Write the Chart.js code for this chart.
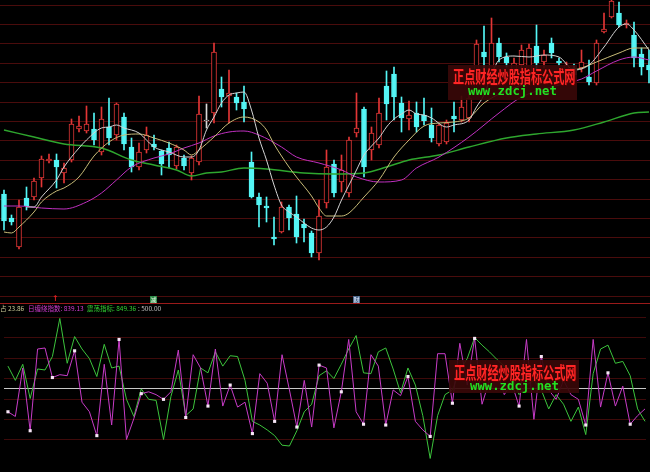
<!DOCTYPE html>
<html lang="zh-CN">
<head>
<meta charset="utf-8">
<title>K线图</title>
<script src="https://cdn.jsdelivr.net/npm/chart.js@4.4.1/dist/chart.umd.min.js"></script>
<style>
  html, body { margin:0; padding:0; background:#000; }
  #wrap { position:relative; width:650px; height:472px; overflow:hidden; background:#000; }
  #topChart { position:absolute; left:0; top:0; }
  #botChart { position:absolute; left:0; top:304px; }
  .divider { position:absolute; left:0; top:303px; width:650px; height:1px; background:#9a1a1a; }
  .lg { position:absolute; top:304px; font-family:"Noto Sans CJK SC", sans-serif; font-size:6.5px; line-height:9px; white-space:nowrap; }
  .wm-box { position:absolute; background:rgba(56,8,8,0.92); }
  .wm-cn { position:absolute; font-family:"Noto Sans CJK SC", sans-serif; font-weight:bold; font-size:17px; line-height:17px; color:#ff2626; transform:scaleX(0.655); transform-origin:0 0; white-space:nowrap; text-shadow:1px 1px 0 #5a0000; }
  .wm-en { position:absolute; font-family:"DejaVu Sans Mono", monospace; font-weight:bold; font-size:12.3px; line-height:12px; color:#22e022; white-space:nowrap; }
  .tag { position:absolute; width:7px; height:7px; font-family:"Noto Sans CJK SC", sans-serif; font-size:6px; line-height:7px; text-align:center; }
  .arrow { position:absolute; font-family:"DejaVu Sans", sans-serif; font-size:8px; line-height:8px; color:#e02020; font-weight:bold; }
</style>
</head>
<body>
<div id="wrap">
  <canvas id="topChart" width="650" height="304"></canvas>
  <canvas id="botChart" width="650" height="168"></canvas>
  <div class="divider"></div>

  <div class="arrow" style="left:52px;top:295px;">↑</div>
  <div class="tag" style="left:150px;top:296px;background:#2f8a48;color:#e8ffe8;">减</div>
  <div class="tag" style="left:353px;top:296px;background:#4e6a8c;color:#e0e8ff;">财</div>

  <div class="lg" style="left:0px;color:#c8c896;">占 23.86</div>
  <div class="lg" style="left:28px;color:#d23cd2;">日缠绕指数: 839.13</div>
  <div class="lg" style="left:87px;color:#32d232;">震荡指标: 849.36</div>
  <div class="lg" style="left:138px;color:#c0c0c0;">: 500.00</div>

  <div class="wm-box" style="left:448px;top:65px;width:129px;height:35px;"></div>
  <div class="wm-cn" style="left:453px;top:67px;">正点财经炒股指标公式网</div>
  <div class="wm-en" style="left:468px;top:85px;">www.zdcj.net</div>

  <div class="wm-box" style="left:449px;top:360px;width:130px;height:33px;"></div>
  <div class="wm-cn" style="left:454px;top:363px;">正点财经炒股指标公式网</div>
  <div class="wm-en" style="left:470px;top:380px;">www.zdcj.net</div>
</div>
<script>
// ---------- candle data (price) ----------
const open  = [10.6,8.2,5.3,10.2,10.3,12.2,13.9,14.0,12.7,14.0, 17.1,16.9,17.1,14.8,17.3,16.5,18.3,15.3,13.3,15.0,
               15.6,14.9,15.2,13.4,14.2,12.7,13.8,17.9,18.7,21.1, 20.4,20.3,19.8,13.8,10.3,9.4,6.3,6.8,9.3,8.6,
               7.6,6.7,4.7,9.7,13.6,11.8,10.7,16.7,19.1,15.0, 15.5,21.4,22.6,19.7,18.1,18.7,18.5,17.5,15.6,15.8,
               18.4,18.0,18.2,22.3,24.8,22.3,25.7,24.3,22.5,23.5, 22.5,25.4,23.8,25.7,23.9,22.8,23.2,23.2,22.3,21.7,
               26.8,28.3,28.7,27.5,26.5,24.6,23.5];
const high  = [11.0,8.5,10.0,11.3,12.2,14.4,14.6,14.6,13.7,18.1, 18.4,19.4,18.7,19.3,20.2,19.7,18.7,16.2,15.7,17.3,
               16.5,15.0,15.8,15.5,14.5,14.4,20.4,19.6,25.7,22.3, 23.0,20.7,21.4,14.8,10.7,10.3,8.3,9.8,9.5,10.4,
               8.1,6.9,10.0,15.0,14.0,14.5,16.3,20.7,19.3,17.3, 20.2,22.9,23.3,20.3,19.9,19.8,20.2,19.2,17.6,18.0,
               19.8,20.4,20.8,26.0,27.4,28.2,26.2,24.7,24.2,25.5, 25.6,27.5,25.0,26.2,24.2,23.8,23.6,25.0,24.0,26.0,
               28.7,30.5,29.8,28.0,27.8,25.2,25.0];
const low   = [7.0,7.5,5.1,9.0,10.0,11.3,13.7,11.2,11.7,13.8, 16.8,16.7,15.5,14.5,15.5,16.0,15.0,12.8,13.0,14.7,
               15.0,12.5,13.2,13.1,13.0,12.0,13.5,17.2,17.7,19.3, 17.7,19.0,17.8,10.2,7.3,7.8,5.5,6.7,7.0,5.7,
               5.8,4.3,4.0,9.2,10.3,10.8,10.3,16.3,12.3,14.0, 15.2,18.0,18.0,16.8,17.0,16.8,17.5,15.8,15.4,15.6,
               16.8,17.8,17.8,22.0,22.7,22.0,23.8,23.3,22.2,23.0, 22.2,23.0,23.2,24.2,23.4,22.5,22.2,22.8,21.5,21.5,
               26.7,28.2,27.3,27.2,23.3,22.5,21.7];
const close = [7.9,7.8,9.3,9.4,11.9,14.1,14.1,13.3,13.2,17.6, 17.4,17.6,16.0,18.1,16.2,19.6,15.6,13.3,14.8,16.5,
               15.3,13.6,14.5,15.3,13.4,14.2,18.6,18.0,24.8,20.3, 20.7,19.7,19.1,10.3,9.5,9.2,6.1,9.3,8.2,6.3,
               7.2,4.7,8.4,13.3,10.7,13.0,16.0,17.2,13.3,16.7, 18.7,19.6,20.3,18.2,18.5,17.3,17.9,16.2,17.5,17.7,
               18.1,19.3,20.2,25.6,24.3,25.7,24.3,23.7,23.7,25.0, 25.2,23.7,24.5,24.7,23.7,23.5,22.5,23.8,21.8,25.7,
               27.1,29.9,27.5,27.7,24.2,23.3,23.0];

// ---------- moving averages: [candle index, value] ----------
const ma5 = [[3,9.3],[4,9.3],[5,10.3],[7,12.0],[8,13.3],[10,15.2],[11,16.0],[13,17.2],[14,17.3],[15,17.5],[16,17.2],
  [18,16.7],[19,16.0],[20,15.3],[22,14.8],[24,14.3],[25,14.3],[26,15.0],[27,17.0],[28,18.3],[29,19.7],[30,20.5],
  [31,20.7],[32,20.8],[33,19.0],[34,16.2],[35,14.0],[36,11.5],[37,9.5],[38,8.8],[39,8.3],[40,7.7],[41,7.2],[42,7.0],
  [43,7.3],[44,8.3],[45,10.0],[46,11.5],[47,13.0],[48,14.5],[49,15.4],[50,16.2],[51,17.3],[52,18.1],[53,18.6],
  [54,19.0],[55,18.6],[56,18.5],[57,18.2],[59,17.3],[60,17.5],[62,18.0],[63,19.3],[64,20.5],[65,22.5],[66,24.0],
  [68,24.4],[70,24.3],[72,24.5],[74,24.3],[76,23.0],[78,23.5],[80,25.3],[82,27.3],[83,27.6],[84,27.0],[86,25.0]];
const ma10 = [[0,6.8],[1,6.7],[2,7.3],[4,8.8],[5,9.8],[7,10.9],[8,11.2],[10,12.3],[12,14.4],[14,15.8],[16,16.5],
  [18,16.6],[20,16.2],[22,15.7],[24,15.0],[25,14.5],[26,15.0],[28,16.3],[30,17.7],[32,18.3],[34,17.8],[35,17.0],
  [36,15.6],[38,13.3],[39,12.3],[41,10.4],[42,9.2],[43,8.4],[45,8.4],[46,8.7],[48,10.3],[50,12.0],[52,14.3],
  [54,16.0],[56,17.4],[58,17.7],[60,17.8],[62,18.2],[64,19.7],[69,21.5],[73,22.5],[77,23.2],[79,23.8],[82,24.7],
  [84,25.2],[86,25.2]];
const ma20 = [[0,9.4],[2,9.4],[5,9.2],[8,9.1],[11,9.8],[13,10.7],[15,12.0],[17,13.3],[20,14.2],[22,14.6],[24,15.2],
  [26,15.7],[28,16.4],[30,16.8],[32,16.9],[34,16.5],[37,15.3],[39,14.3],[42,13.7],[45,13.0],[47,12.3],[50,11.8],
  [53,12.0],[55,13.2],[58,14.3],[62,16.3],[66,18.7],[69,20.3],[73,21.3],[77,22.1],[79,22.9],[82,24.0],[84,24.3],[86,24.0]];
const ma60 = [[0,17.0],[4,16.3],[8,15.6],[13,15.2],[17,14.0],[20,13.5],[23,13.0],[25,12.4],[27,12.7],[29,12.8],
  [32,13.2],[35,13.1],[40,12.7],[44,12.6],[48,12.7],[51,13.3],[54,14.0],[58,14.5],[62,15.3],[67,16.2],[71,16.6],
  [76,17.0],[80,17.8],[84,18.7],[86,18.8]];

// ---------- lower panel indicators ----------
const chainIdx = [388,365,603,295,696,701,556,570,565,687, 435,388,271,621,323,743,252,355,477,486,
  472,449,486,691,360,668,603,416,696,416, 519,411,435,281,575,528,341,668,495,313,
  542,313,617,603,309,486,743,388,327,668, 612,323,495,467,561,341,299,267,673,673,
  430,724,519,748,425,542,589,472,528,416, 743,351,659,495,449,542,472,449,323,743,
  411,579,416,514,327,369,402];
const oscIdx = [612,542,621,453,598,593,659,846,626,757, 696,649,561,719,603,612,449,365,500,449,
  444,252,463,593,369,402,603,579,682,612, 663,659,542,341,323,299,271,224,220,295,
  388,425,565,589,551,621,696,762,579,575, 682,701,598,481,603,519,369,159,369,472,
  495,589,649,752,715,682,645,612,565,472, 519,542,495,402,472,425,341,411,276,575,
  696,715,626,635,565,402,341];
const markIdx = [0,3,6,9,12,15,18,21,24,27,30,33,36,39,42,45,48,51,54,57,60,63,66,69,72,75,78,81,84];
const refLevel = 500;

// ---------- axis tick values (grid lines) ----------
const topGridTicks = [29.5,27.56,25.62,23.68,21.74,19.8,17.86,15.92,13.98,12.04,10.1,8.16,6.22,4.28,2.34,0.4];
const botGridTicks = [250,350,450,500,550,650,750,850];

// ---------- build ----------
const N = open.length;
const idx = Array.from({length: N}, (_, i) => i);
const RED = '#e23636', CYAN = '#54f6f6', FLAT = '#d8d8d8';
const colorOf = i => Math.abs(close[i] - open[i]) < 0.15 ? FLAT : (close[i] > open[i] ? RED : CYAN);
const fillOf  = i => (close[i] < open[i] && Math.abs(close[i] - open[i]) >= 0.15) ? CYAN : '#000000';
const X_MIN = -0.533, X_MAX = 86.133;

const lineDs = (label, pts, color, w) => ({
  type: 'line', label, data: pts.map(([x, y]) => ({x, y})),
  borderColor: color, borderWidth: w, pointRadius: 0, fill: false,
  cubicInterpolationMode: 'monotone', order: 0
});

const common = {
  responsive: false, animation: false, devicePixelRatio: 1,
  layout: { padding: 0 },
  events: [],
  plugins: { legend: { display: false }, tooltip: { enabled: false } }
};

new Chart(document.getElementById('topChart'), {
  type: 'bar',
  data: {
    datasets: [
      lineDs('MA5',  ma5,  '#d4d4d4', 1),
      lineDs('MA10', ma10, '#c8bc78', 1),
      lineDs('MA20', ma20, '#c030c0', 1),
      lineDs('MA60', ma60, '#2ea62e', 1.4),
      {
        label: 'body', data: idx.map(i => ({x: i, y: [open[i], close[i]]})),
        backgroundColor: idx.map(fillOf), borderColor: idx.map(colorOf),
        borderWidth: 1, borderSkipped: false, barThickness: 5, maxBarThickness: 5,
        grouped: false, order: 1
      },
      {
        label: 'wick', data: idx.map(i => ({x: i, y: [low[i], high[i]]})),
        backgroundColor: idx.map(colorOf), borderWidth: 0,
        barThickness: 1, maxBarThickness: 1, grouped: false, order: 2
      }
    ]
  },
  options: Object.assign({}, common, {
    scales: {
      x: { type: 'linear', min: X_MIN, max: X_MAX, display: false, offset: false },
      y: {
        min: -0.4, max: 30,
        border: { display: false },
        grid: { color: '#4a0c0c', drawTicks: false, lineWidth: 1 },
        ticks: { display: false },
        afterBuildTicks: s => { s.ticks = topGridTicks.map(v => ({value: v})); },
        afterFit: s => { s.width = 0; }
      }
    }
  })
});

new Chart(document.getElementById('botChart'), {
  type: 'line',
  data: {
    datasets: [
      {
        label: 'marks', data: markIdx.map(i => ({x: i, y: chainIdx[i]})),
        showLine: false, pointStyle: 'rect', pointRadius: 2.2, pointBorderWidth: 0,
        pointBackgroundColor: '#f6e6f6', order: 0
      },
      {
        label: '日缠绕指数', data: idx.map(i => ({x: i, y: chainIdx[i]})),
        borderColor: '#c83cc8', borderWidth: 1, pointRadius: 0, tension: 0, order: 1
      },
      {
        label: '震荡指标', data: idx.map(i => ({x: i, y: oscIdx[i]})),
        borderColor: '#3cc43c', borderWidth: 1, pointRadius: 0, tension: 0, order: 2
      }
    ]
  },
  options: Object.assign({}, common, {
    scales: {
      x: { type: 'linear', min: X_MIN, max: X_MAX, display: false, offset: false },
      y: {
        min: 112.1, max: 897.2,
        border: { display: false },
        grid: {
          drawTicks: false, lineWidth: 1,
          color: c => (c.tick && c.tick.value === refLevel) ? '#c8c8c8' : '#3e0a0a'
        },
        ticks: { display: false },
        afterBuildTicks: s => { s.ticks = botGridTicks.map(v => ({value: v})); },
        afterFit: s => { s.width = 0; }
      }
    }
  })
});
</script>
</body>
</html>
